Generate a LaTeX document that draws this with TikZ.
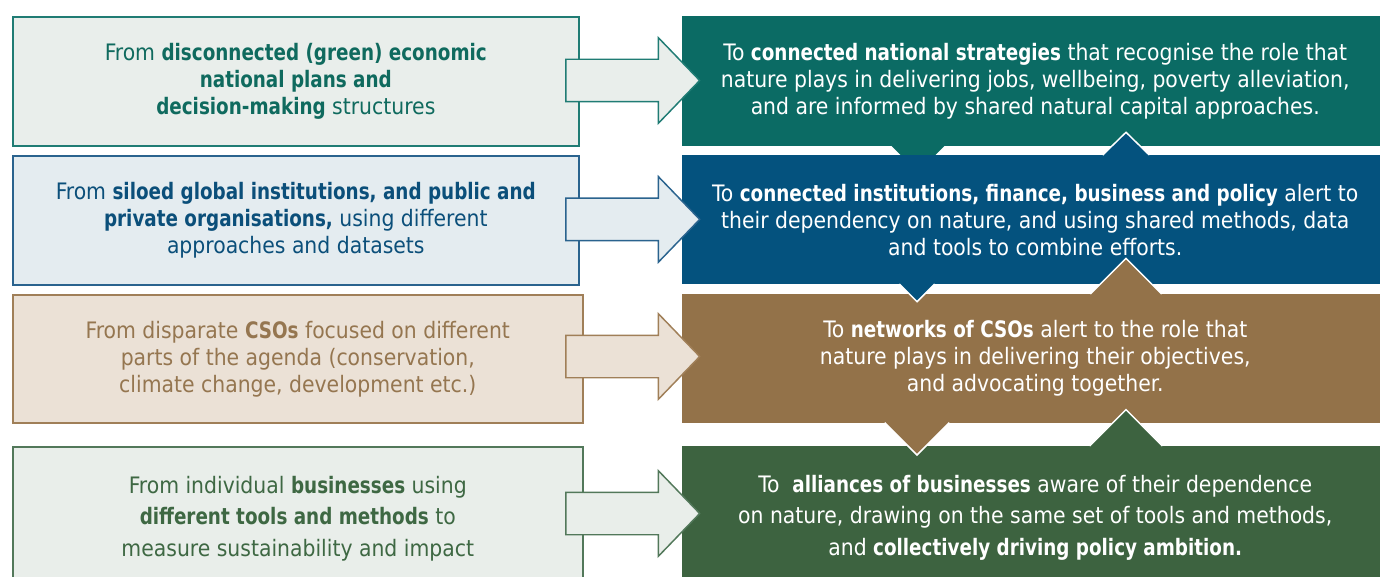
\documentclass[tikz,border=0pt]{standalone}
\usepackage{fontspec}
\setmainfont{DejaVu Sans Condensed}[BoldFeatures={FakeStretch=0.9}]
\usetikzlibrary{shapes.arrows}
\definecolor{tealD}{HTML}{0B6B64}
\definecolor{blueD}{HTML}{04527E}
\definecolor{brownD}{HTML}{937249}
\definecolor{greenD}{HTML}{3D6340}
\definecolor{tealT}{HTML}{0F6A5E}
\definecolor{tealF}{HTML}{E9EEEB}
\definecolor{tealB}{HTML}{207C74}
\definecolor{blueT}{HTML}{0B4F7A}
\definecolor{blueF}{HTML}{E4ECF0}
\definecolor{blueB}{HTML}{2A638E}
\definecolor{brownT}{HTML}{957650}
\definecolor{brownF}{HTML}{EBE1D6}
\definecolor{brownB}{HTML}{A07F58}
\definecolor{greenT}{HTML}{3E6843}
\definecolor{greenF}{HTML}{E9EEEA}
\definecolor{greenB}{HTML}{52785A}
\tikzset{
  txt/.style={font=\fontsize{17}{20.25}\selectfont, align=center},
  txtb/.style={font=\fontsize{17}{23.6}\selectfont, align=center},
  lbox/.style={draw=#1B, fill=#1F, text=#1T, line width=1.2pt, inner sep=0pt},
  rbox/.style={fill=#1D, text=white, inner sep=0pt},
  barrow/.style={single arrow, draw=#1B, fill=#1F, line width=1.1pt,
    inner xsep=0pt, inner ysep=15.375pt,
    minimum height=100.3pt, single arrow head extend=16.1pt,
    single arrow tip angle=92, anchor=tip},
  notchline/.style={draw=white, line width=1.1pt}
}
\begin{document}
\begin{tikzpicture}[x=0.75pt,y=-0.75pt]
\useasboundingbox (0,0) rectangle (1380,577);
% right boxes
\node[rbox=teal, minimum width=706*0.75pt, minimum height=129.7*0.75pt, anchor=north west, txt] (R1) at (682,16)
 {To \textbf{connected national strategies} that recognise the role that\\
  nature plays in delivering jobs, wellbeing, poverty alleviation,\\
  and are informed by shared natural capital approaches.};
\fill[tealD] (891.3,145.6) -- (918,172.3) -- (944.7,145.6) -- cycle;
\node[rbox=blue, minimum width=706*0.75pt, minimum height=129*0.75pt, anchor=north west, txt] (R2) at (682,155)
 {To \textbf{connected institutions, finance, business and policy} alert to\\
  their dependency on nature, and using shared methods, data\\
  and tools to combine efforts.};
\node[rbox=brown, minimum width=706*0.75pt, minimum height=128.7*0.75pt, anchor=north west, txt] (R3) at (682,294)
 {To \textbf{networks of CSOs} alert to the role that\\
  nature plays in delivering their objectives,\\
  and advocating together.};
\node[rbox=green, minimum width=706*0.75pt, minimum height=143*0.75pt, anchor=north west, txtb] (R4) at (682,446)
 {To\ \ \textbf{alliances of businesses} aware of their dependence\\
  on nature, drawing on the same set of tools and methods,\\
  and \textbf{collectively driving policy ambition.}};
% notches
\fill[blueD] (1102.7,155) -- (1126,132.3) -- (1149.3,155) -- cycle;
\draw[notchline] (1102.7,155) -- (1126,132.3) -- (1149.3,155);
\fill[blueD] (899.3,284) -- (917,301.7) -- (934.7,284) -- cycle;
\draw[notchline] (899.3,284) -- (917,301.7) -- (934.7,284);
\fill[brownD] (1090.4,294) -- (1126,258.4) -- (1161.6,294) -- cycle;
\draw[notchline] (1090.4,294) -- (1126,258.4) -- (1161.6,294);
\fill[brownD] (884.7,422.7) -- (917,455) -- (949.3,422.7) -- cycle;
\draw[notchline] (884.7,422.7) -- (917,455) -- (949.3,422.7);
\fill[greenD] (1089.6,446) -- (1126,409.6) -- (1162.4,446) -- cycle;
\draw[notchline] (1089.6,446) -- (1126,409.6) -- (1162.4,446);
% left boxes
\node[lbox=teal, minimum width=566*0.75pt, minimum height=129*0.75pt, anchor=north west, txt] (L1) at (12,16)
 {From \textbf{disconnected (green) economic}\\
  \textbf{national plans and}\\
  \textbf{decision-making} structures};
\node[lbox=blue, minimum width=566*0.75pt, minimum height=129*0.75pt, anchor=north west, txt] (L2) at (12,155)
 {From \textbf{siloed global institutions, and public and}\\
  \textbf{private organisations,} using different\\
  approaches and datasets};
\node[lbox=brown, minimum width=570*0.75pt, minimum height=128.3*0.75pt, anchor=north west, txt] (L3) at (12,294)
 {From disparate \textbf{CSOs} focused on different\\
  parts of the agenda (conservation,\\
  climate change, development etc.)};
\node[lbox=green, minimum width=570*0.75pt, minimum height=143*0.75pt, anchor=north west, txtb] (L4) at (12,446)
 {From individual \textbf{businesses} using\\
  \textbf{different tools and methods} to\\
  measure sustainability and impact};
% block arrows
\node[barrow=teal] (A1) at (700.7,80.5) {};
\node[barrow=blue] (A2) at (700.7,219.4) {};
\node[barrow=brown] (A3) at (700.7,356.5) {};
\node[barrow=green] (A4) at (700.7,513.5) {};
\end{tikzpicture}
\end{document}
